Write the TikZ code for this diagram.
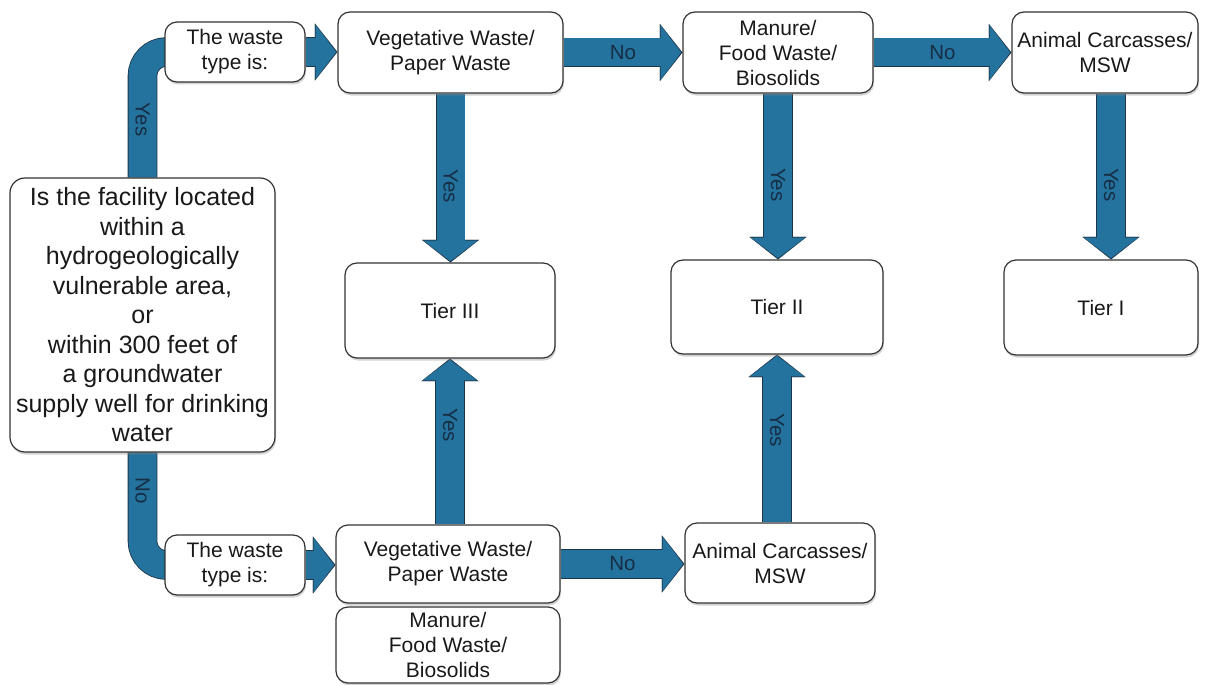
\documentclass[tikz,border=0pt]{standalone}
\usepackage{fontspec}
\setmainfont{Liberation Sans}
\usetikzlibrary{arrows.meta,shadows,backgrounds}

\definecolor{arrowblue}{RGB}{36,115,158}
\definecolor{arrowedge}{RGB}{28,52,72}
\definecolor{labelblue}{RGB}{22,45,68}

\begin{document}
\begin{tikzpicture}[x=1pt, y=-1pt]
        \tikzstyle{box}=[draw=black!80, line width=1.2pt, rounded corners=12pt, fill=white, align=center, text=black!90, inner sep=1pt, font=\fontsize{21}{25}\selectfont, drop shadow={shadow xshift=1pt, shadow yshift=-2.5pt, opacity=0.35}]
        \tikzstyle{under}=[draw=arrowedge, line width=29.6pt, -{Triangle[width=57pt, length=22.5pt, line width=0.1pt, fill=arrowedge]}]
        \tikzstyle{over}=[draw=arrowblue, line width=28pt, shorten >=1.3pt, -{Triangle[width=54pt, length=20.5pt, line width=0.1pt, fill=arrowblue]}]
        \tikzstyle{bendunder}=[draw=arrowedge, line width=29.6pt, rounded corners=24pt]
        \tikzstyle{bendover}=[draw=arrowblue, line width=28pt, rounded corners=24pt]
        \tikzstyle{answer}=[text=labelblue, font=\fontsize{20.5}{24}\selectfont]
        \useasboundingbox (0,0) rectangle (1205,685);

        % question
        \node [box, minimum width=265pt, minimum height=274pt, rounded corners=15pt, font=\fontsize{25}{29.5}\selectfont] (facility) at (142.5,315)
            {Is the facility located\\within a\\hydrogeologically\\vulnerable area,\\or\\within 300 feet of\\a groundwater\\supply well for drinking\\water};

        % upper row
        \node [box, minimum width=140pt, minimum height=60pt] (typeyes) at (235,52) {The waste\\type is:};
        \node [box, minimum width=225pt, minimum height=81pt] (vegyes) at (450.5,52.5) {Vegetative Waste/\\Paper Waste};
        \node [box, minimum width=190pt, minimum height=81pt] (manureyes) at (778,52.5) {Manure/\\Food Waste/\\Biosolids};
        \node [box, minimum width=186pt, minimum height=81pt] (animalyes) at (1105,52.5) {Animal Carcasses/\\MSW};

        % tiers
        \node [box, minimum width=210pt, minimum height=95pt] (tierthree) at (450,310.5) {Tier III};
        \node [box, minimum width=212pt, minimum height=94pt] (tiertwo) at (777,307) {Tier II};
        \node [box, minimum width=194pt, minimum height=95pt] (tierone) at (1101,307.5) {Tier I};

        % lower row
        \node [box, minimum width=140pt, minimum height=60pt] (typeno) at (235,565) {The waste\\type is:};
        \node [box, minimum width=224pt, minimum height=78pt] (vegno) at (448,564) {Vegetative Waste/\\Paper Waste};
        \node [box, minimum width=224pt, minimum height=76pt] (manureno) at (448,645) {Manure/\\Food Waste/\\Biosolids};
        \node [box, minimum width=190pt, minimum height=80pt] (animalno) at (780,563) {Animal Carcasses/\\MSW};

        \begin{scope}[on background layer]
        % yes / no bends
        \draw [bendunder] (facility.north) |- ([xshift=10pt]typeyes.west);
        \draw [bendover] (facility.north) |- node [answer, pos=0.23, rotate=-90] {Yes} ([xshift=10pt]typeyes.west);
        \draw [bendunder] (facility.south) |- ([xshift=10pt]typeno.west);
        \draw [bendover] (facility.south) |- node [answer, pos=0.17, rotate=-90] {No} ([xshift=10pt]typeno.west);

        % upper row
        \draw [under] (typeyes.east) -- (typeyes.east -| vegyes.west);
        \draw [over] (typeyes.east) -- (typeyes.east -| vegyes.west);
        \draw [under] (vegyes.east) -- (manureyes.west);
        \draw [over] (vegyes.east) -- node [answer] {No} (manureyes.west);
        \draw [under] (manureyes.east) -- (animalyes.west);
        \draw [over] (manureyes.east) -- node [answer] {No} (animalyes.west);

        % down to tiers
        \draw [under] (vegyes.south) -- (vegyes.south |- tierthree.north);
        \draw [over] (vegyes.south) -- node [answer, rotate=-90, pos=0.55] {Yes} (vegyes.south |- tierthree.north);
        \draw [under] (manureyes.south) -- (manureyes.south |- tiertwo.north);
        \draw [over] (manureyes.south) -- node [answer, rotate=-90, pos=0.55] {Yes} (manureyes.south |- tiertwo.north);
        \draw [under] ([xshift=6pt]animalyes.south) -- ([xshift=6pt]animalyes.south |- tierone.north);
        \draw [over] ([xshift=6pt]animalyes.south) -- node [answer, rotate=-90, pos=0.55] {Yes} ([xshift=6pt]animalyes.south |- tierone.north);

        % lower row
        \draw [under] (typeno.east) -- (typeno.east -| vegno.west);
        \draw [over] (typeno.east) -- (typeno.east -| vegno.west);
        \draw [under] (vegno.east) -- (vegno.east -| animalno.west);
        \draw [over] (vegno.east) -- node [answer] {No} (vegno.east -| animalno.west);

        % up to tiers
        \draw [under] (tierthree.south |- vegno.north) -- (tierthree.south);
        \draw [over] (tierthree.south |- vegno.north) -- node [answer, rotate=-90, pos=0.6] {Yes} (tierthree.south);
        \draw [under] (tiertwo.south |- animalno.north) -- (tiertwo.south);
        \draw [over] (tiertwo.south |- animalno.north) -- node [answer, rotate=-90, pos=0.55] {Yes} (tiertwo.south);
        \end{scope}
    \end{tikzpicture}
\end{document}
